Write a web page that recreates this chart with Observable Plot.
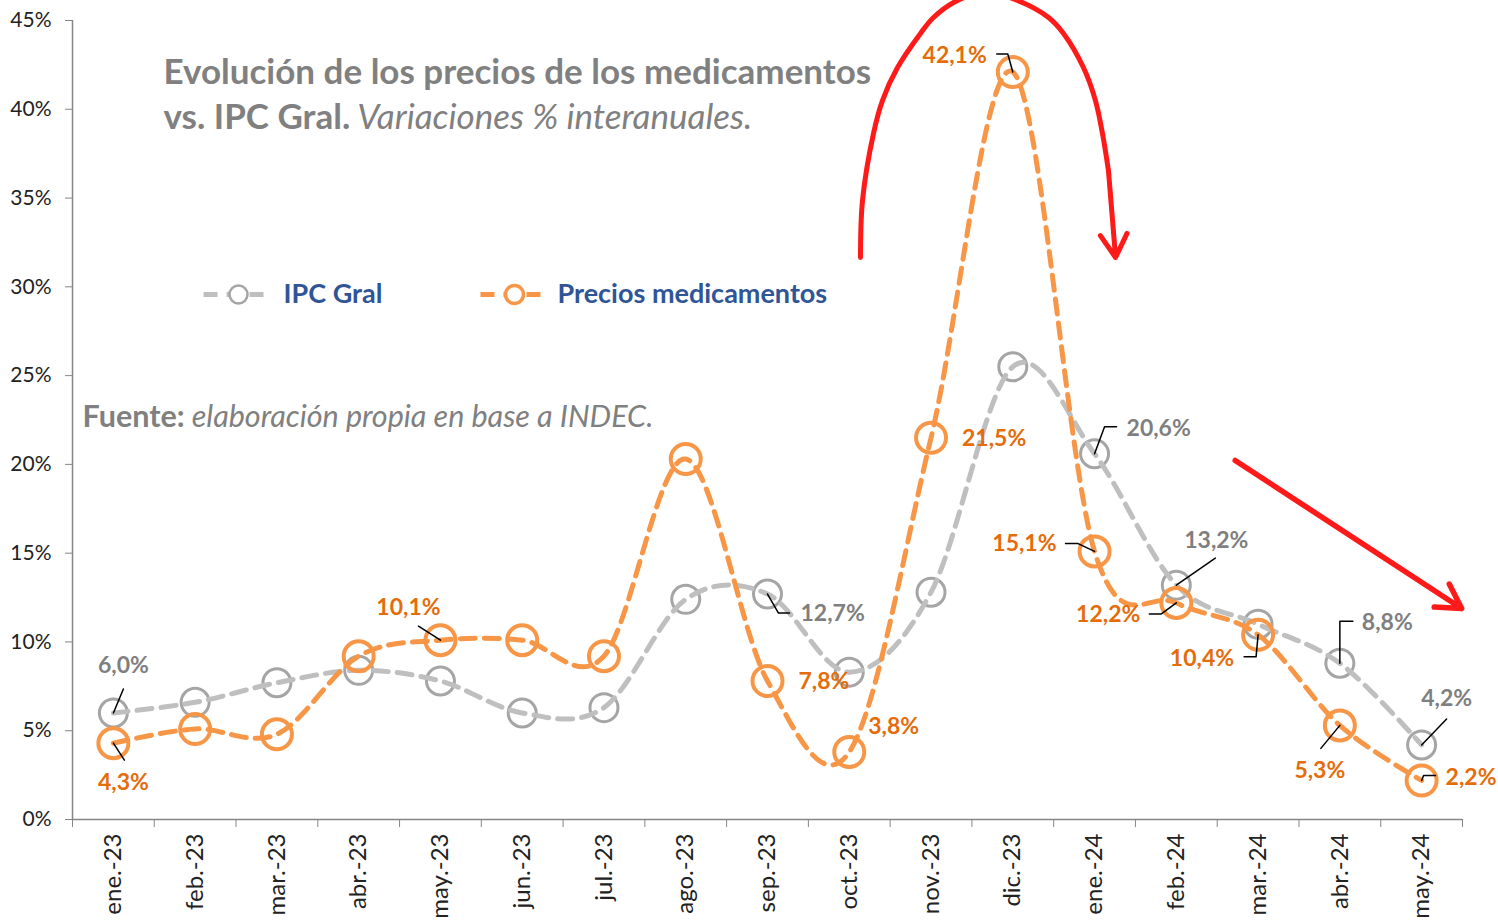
<!DOCTYPE html>
<html>
<head>
<meta charset="utf-8">
<script src="https://cdn.jsdelivr.net/npm/d3@7"></script>
<script src="https://cdn.jsdelivr.net/npm/@observablehq/plot@0.6"></script>
<style>
  html, body { margin: 0; padding: 0; background: #fff; }
  #chart svg { display: block; }
</style>
</head>
<body>
<div id="chart"></div>
<script>
// ---- Data ----
const months = ["ene.-23","feb.-23","mar.-23","abr.-23","may.-23","jun.-23","jul.-23","ago.-23","sep.-23","oct.-23","nov.-23","dic.-23","ene.-24","feb.-24","mar.-24","abr.-24","may.-24"];
const ipcGral = [6.0, 6.6, 7.7, 8.4, 7.8, 6.0, 6.3, 12.4, 12.7, 8.3, 12.8, 25.5, 20.6, 13.2, 11.0, 8.8, 4.2];
const preciosMed = [4.3, 5.1, 4.8, 9.2, 10.1, 10.1, 9.2, 20.3, 7.8, 3.8, 21.5, 42.1, 15.1, 12.2, 10.4, 5.3, 2.2];
const yTicks = [0, 5, 10, 15, 20, 25, 30, 35, 40, 45];
const seriesNames = ["IPC Gral", "Precios medicamentos"];

// Label placement (pixel offsets from the point) — styling only
const ipcLabelPlacement = [
  {i: 0, dx: 10, dy: -47, anchor: "middle", leader: [[10, -24]]},
  {i: 8, dx: 33, dy: 20, anchor: "start", leader: [[11, 19], [22, 19]]},
  {i: 12, dx: 32, dy: -25, anchor: "start", leader: [[10, -27], [22, -27]]},
  {i: 13, dx: 40, dy: -45, anchor: "middle", leader: [[39, -27]]},
  {i: 15, dx: 22, dy: -41, anchor: "start", leader: [[0, -42], [13, -42]]},
  {i: 16, dx: 25, dy: -46, anchor: "middle", leader: [[25, -26]]}
];
const medLabelPlacement = [
  {i: 0, dx: 10, dy: 39, anchor: "middle", leader: [[11, 17]]},
  {i: 4, dx: -32, dy: -33, anchor: "middle", leader: [[-22, -14]]},
  {i: 8, dx: 31, dy: 1, anchor: "start"},
  {i: 9, dx: 19, dy: -25, anchor: "start"},
  {i: 10, dx: 31, dy: 1, anchor: "start"},
  {i: 11, dx: -26, dy: -16, anchor: "end", leader: [[-5, -18], [-16, -18]]},
  {i: 12, dx: -38, dy: -8, anchor: "end", leader: [[-17, -8], [-29, -8]]},
  {i: 13, dx: -36, dy: 12, anchor: "end", leader: [[-15, 11], [-27, 11]]},
  {i: 14, dx: -24, dy: 24, anchor: "end", leader: [[-2, 22], [-14, 22]]},
  {i: 15, dx: -20, dy: 45, anchor: "middle", leader: [[-19, 23]]},
  {i: 16, dx: 24, dy: -3, anchor: "start", leader: [[2, -5], [14, -5]]}
];

// Annotation arrows (data units: x = month index, y = %)
const arcX = [9.137, 9.162, 9.296, 9.406, 9.590, 9.871, 10.030, 10.324, 10.690, 11.057, 11.437, 11.620, 11.864, 12.011, 12.097, 12.170];
const arcY = [31.65, 34.86, 38.63, 40.49, 42.35, 44.27, 45.17, 46.13, 46.58, 46.13, 45.17, 44.27, 42.35, 40.49, 38.63, 36.55];
const arcHead = {x1: 12.17, y1: 36.55, x2: 12.257, y2: 31.65};
const downArrow = {x1: 13.72, y1: 20.22, x2: 16.49, y2: 11.88};

// ---- Layout ----
const W = 1498, H = 923;
const mL = 72, mR = 36, mT = 20, mB = 104;
const kx = (W - mL - mR) / months.length;   // px per month
const ky = (H - mT - mB) / 45;               // px per %
const pxX = (px) => (px - mL) / kx - 0.5;
const pxY = (py) => (H - mB - py) / ky;

const GRAY_LINE = "#BFBFBF", GRAY_DOT = "#A5A5A5", GRAY_TXT = "#7F7F7F";
const ORANGE = "#F79646", ORANGE_TXT = "#E46C0A", BLUE = "#2F5597", RED = "#FF1A1A";
const FONT = "Lato";

const ipcData = ipcGral.map((v, i) => ({i, v}));
const medData = preciosMed.map((v, i) => ({i, v}));
const fmt = (v) => v.toFixed(1).replace(".", ",") + "%";

function buildLabels(placement, values) {
  return placement.map(p => ({i: p.i, v: values[p.i], dx: p.dx, dy: p.dy, anchor: p.anchor, text: fmt(values[p.i])}));
}
function buildLeaders(placement, values, key) {
  const out = [];
  placement.filter(p => p.leader).forEach(p => {
    const v = values[p.i];
    out.push({k: key + p.i, x: p.i, y: v});
    p.leader.forEach(([ox, oy]) => out.push({k: key + p.i, x: p.i + ox / kx, y: v - oy / ky}));
  });
  return out;
}
const ipcLabels = buildLabels(ipcLabelPlacement, ipcGral);
const medLabels = buildLabels(medLabelPlacement, preciosMed);
const leaders = buildLeaders(ipcLabelPlacement, ipcGral, "a").concat(buildLeaders(medLabelPlacement, preciosMed, "b"));

function labelMarksPer(labels, color) {
  return labels.map(d => Plot.text([d], {
    x: "i", y: "v", text: "text", dx: d.dx, dy: d.dy,
    textAnchor: d.anchor, fill: color, fontWeight: "bold", fontSize: 23
  }));
}

// Legend geometry (px -> data)
const legY = pxY(294);
const legend = [
  {name: seriesNames[0], x1: pxX(203), x2: pxX(270), cx: pxX(238), tx: pxX(283), stroke: GRAY_LINE, dot: GRAY_DOT, sw: 2.5},
  {name: seriesNames[1], x1: pxX(480), x2: pxX(546), cx: pxX(514), tx: pxX(557), stroke: ORANGE, dot: ORANGE, sw: 3.5}
];

const chart = Plot.plot({
  width: W, height: H,
  marginLeft: mL, marginRight: mR, marginTop: mT, marginBottom: mB,
  x: {domain: [-0.5, months.length - 0.5]},
  y: {domain: [0, 45]},
  style: {fontFamily: FONT, fontSize: "20px", background: "#fff", overflow: "visible"},
  marks: [
    // axes
    Plot.axisY({ticks: yTicks, tickFormat: d => d + "%", tickSize: 7, tickPadding: 14, fontSize: 21, stroke: "#868686", fill: "#222", label: null}),
    Plot.ruleX([-0.5], {stroke: "#868686", strokeWidth: 1.5}),
    Plot.ruleY([0], {stroke: "#868686", strokeWidth: 1.5}),
    Plot.axisX({ticks: d3.range(-0.5, months.length, 1), tickSize: 8, text: null, stroke: "#868686", label: null}),
    Plot.axisX({ticks: d3.range(months.length), tickFormat: i => months[i], tickSize: 0, tickPadding: 14, tickRotate: -90, fontSize: 24, fill: "#222", label: null}),

    // title
    Plot.text(["Evolución de los precios de los medicamentos"], {frameAnchor: "top-left", dx: 91, dy: 39, textAnchor: "start", fill: "#808080", fontWeight: "bold", fontSize: 35}),
    Plot.text(["vs. IPC Gral.|Variaciones % interanuales."], {frameAnchor: "top-left", dx: 91, dy: 84, textAnchor: "start", fill: "#808080", fontSize: 35, className: "mixed"}),
    Plot.text(["Fuente:|elaboración propia en base a INDEC."], {frameAnchor: "top-left", dx: 10, dy: 385, textAnchor: "start", fill: "#808080", fontSize: 30.5, className: "mixed"}),

    // legend
    Plot.link(legend, {x1: "x1", x2: "x2", y1: legY, y2: legY, stroke: "stroke", strokeWidth: 5, strokeDasharray: "14 9"}),
    Plot.dot(legend, {x: "cx", y: legY, r: 9, stroke: "dot", strokeWidth: "sw", fill: "white"}),
    Plot.text(legend, {x: "tx", y: legY, text: "name", textAnchor: "start", fill: BLUE, fontWeight: "bold", fontSize: 27}),

    // series
    Plot.dot(ipcData, {x: "i", y: "v", r: 14, stroke: GRAY_DOT, strokeWidth: 3, fill: "none"}),
    Plot.line(ipcData, {x: "i", y: "v", stroke: GRAY_LINE, strokeWidth: 5, strokeDasharray: "15 9", curve: "cardinal", tension: 0}),
    Plot.dot(medData, {x: "i", y: "v", r: 15, stroke: ORANGE, strokeWidth: 4, fill: "none"}),
    Plot.line(medData, {x: "i", y: "v", stroke: ORANGE, strokeWidth: 5, strokeDasharray: "15 9", curve: "cardinal", tension: 0}),

    // leaders
    Plot.line(leaders, {x: "x", y: "y", z: "k", stroke: "#000", strokeWidth: 1.5}),

    // data labels
    ...labelMarksPer(ipcLabels, GRAY_TXT),
    ...labelMarksPer(medLabels, ORANGE_TXT),

    // annotations
    Plot.line(arcX.map((x, j) => ({x, y: arcY[j]})), {x: "x", y: "y", stroke: RED, strokeWidth: 5, curve: "catmull-rom"}),
    Plot.arrow([arcHead], {x1: "x1", y1: "y1", x2: "x2", y2: "y2", stroke: RED, strokeWidth: 5, headLength: 8}),
    Plot.arrow([downArrow], {x1: "x1", y1: "y1", x2: "x2", y2: "y2", stroke: RED, strokeWidth: 5.5, headLength: 7.5})
  ]
});

// mixed-style text: first part bold, second part italic
d3.select(chart).selectAll("g.mixed text").each(function() {
  const parts = this.textContent.split("|");
  const t = d3.select(this);
  t.text(null);
  t.append("tspan").attr("font-weight", "bold").text(parts[0]);
  t.append("tspan").attr("font-style", "italic").attr("font-weight", "normal").text(" " + parts[1]);
});

document.getElementById("chart").appendChild(chart);
</script>
</body>
</html>
